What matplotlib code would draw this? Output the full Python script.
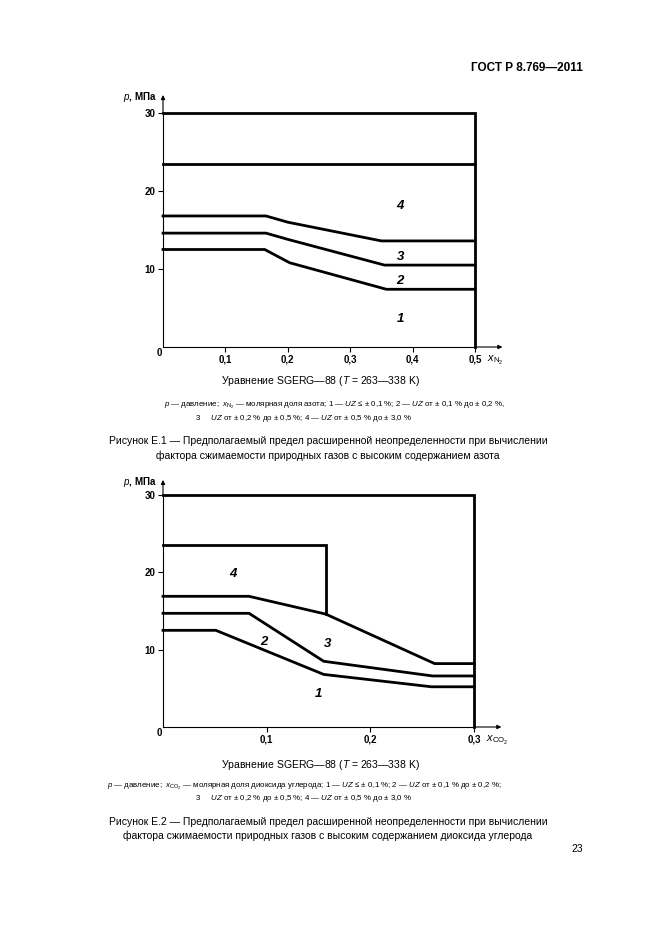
import matplotlib
matplotlib.use("Agg")
import matplotlib.pyplot as plt

plt.rcParams['font.family'] = ['Liberation Sans', 'DejaVu Sans']
plt.rcParams['mathtext.fontset'] = 'custom'
plt.rcParams['mathtext.rm'] = 'Liberation Sans'
plt.rcParams['mathtext.it'] = 'Liberation Sans:italic'
plt.rcParams['mathtext.bf'] = 'Liberation Sans:bold'

# ---- Рисунок Е.1 (азот) ----
n2_xmax = 0.5
n2_xticks = [0.1, 0.2, 0.3, 0.4, 0.5]
n2_b4_x = [0, 0.5]
n2_b4_p = [23.5, 23.5]
n2_b34_x = [0, 0.165, 0.2, 0.35, 0.5]
n2_b34_p = [16.8, 16.8, 16.0, 13.6, 13.6]
n2_b23_x = [0, 0.165, 0.2, 0.355, 0.5]
n2_b23_p = [14.6, 14.6, 13.8, 10.5, 10.5]
n2_b12_x = [0, 0.163, 0.203, 0.358, 0.5]
n2_b12_p = [12.5, 12.5, 10.8, 7.4, 7.4]
n2_lab_x = [0.38, 0.38, 0.38, 0.38]
n2_lab_p = [3.6, 8.4, 11.6, 18.1]

# ---- Рисунок Е.2 (диоксид углерода) ----
co2_xmax = 0.3
co2_xticks = [0.1, 0.2, 0.3]
co2_b4_x = [0, 0.157, 0.157]
co2_b4_p = [23.5, 23.5, 14.6]
co2_b34_x = [0, 0.083, 0.157, 0.262, 0.3]
co2_b34_p = [16.9, 16.9, 14.6, 8.2, 8.2]
co2_b23_x = [0, 0.083, 0.155, 0.26, 0.3]
co2_b23_p = [14.7, 14.7, 8.5, 6.6, 6.6]
co2_b12_x = [0, 0.051, 0.155, 0.259, 0.3]
co2_b12_p = [12.5, 12.5, 6.8, 5.2, 5.2]
co2_lab_x = [0.150, 0.097, 0.159, 0.0675]
co2_lab_p = [4.3, 11.0, 10.7, 19.8]

region_names = ['1', '2', '3', '4']
yticks = [10, 20, 30]

W, H = 661, 935
fig = plt.figure(figsize=(W / 100, H / 100), dpi=100)


def px(x, y):
    return x / W, 1 - y / H


def draw_chart(rect, xmax, xticks, lines, lab_x, lab_p, xlab, up_arrow):
    ax = fig.add_axes(rect)
    ax.set_xlim(0, xmax)
    ax.set_ylim(0, 30)
    for s in ['top', 'right']:
        ax.spines[s].set_visible(False)
    for s in ['left', 'bottom']:
        ax.spines[s].set_linewidth(0.8)
    lw = 2.0
    ax.plot([0, xmax, xmax], [30, 30, 0], color='black', lw=lw,
            solid_joinstyle='miter', clip_on=False)
    for xs, ps in lines:
        ax.plot(xs, ps, color='black', lw=lw, solid_joinstyle='miter',
                clip_on=False)
    for name, x, p in zip(region_names, lab_x, lab_p):
        ax.text(x, p, name, fontsize=9.5, fontweight='bold', style='italic',
                ha='center', va='center')
    ax.set_xticks(xticks)
    ax.set_xticklabels([('%.1f' % t).replace('.', ',') for t in xticks])
    ax.set_yticks(yticks)
    ax.set_yticklabels([str(t) for t in yticks])
    ax.tick_params(length=3.5, width=0.8, pad=2, labelsize=7)
    for t in ax.get_xticklabels() + ax.get_yticklabels():
        t.set_fontweight('bold')
    ax.text(-0.004, -0.005, '0', transform=ax.transAxes, fontsize=7,
            fontweight='bold', ha='right', va='top')
    ax.annotate('', xy=(0, up_arrow), xytext=(0, 1), xycoords='axes fraction',
                arrowprops=dict(arrowstyle='-|>', lw=0.8, color='black',
                                mutation_scale=6, shrinkA=0, shrinkB=0),
                annotation_clip=False)
    ax.annotate('', xy=(1.088, 0), xytext=(1, 0), xycoords='axes fraction',
                arrowprops=dict(arrowstyle='-|>', lw=0.8, color='black',
                                mutation_scale=6, shrinkA=0, shrinkB=0),
                annotation_clip=False)
    ax.text(-0.02, up_arrow - 0.01, '$p$, МПа', transform=ax.transAxes,
            fontsize=7, fontweight='bold', ha='right', va='center')
    ax.text(1.04, -0.03, xlab, transform=ax.transAxes, fontsize=8,
            ha='left', va='top')
    return ax


# chart 1: x 163..475, y 347..113
l, b = px(163, 347)
r, t = px(475, 113)
draw_chart([l, b, r - l, t - b], n2_xmax, n2_xticks,
           [(n2_b4_x, n2_b4_p), (n2_b34_x, n2_b34_p),
            (n2_b23_x, n2_b23_p), (n2_b12_x, n2_b12_p)],
           n2_lab_x, n2_lab_p, r'$x_{\mathrm{N_2}}$', 1.077)

# chart 2: x 163..474, y 727..495
l, b = px(163, 727)
r, t = px(474, 495)
draw_chart([l, b, r - l, t - b], co2_xmax, co2_xticks,
           [(co2_b4_x, co2_b4_p), (co2_b34_x, co2_b34_p),
            (co2_b23_x, co2_b23_p), (co2_b12_x, co2_b12_p)],
           co2_lab_x, co2_lab_p, r'$x_{\mathrm{CO_2}}$', 1.065)

# page texts
fig.text(*px(583, 68), 'ГОСТ Р 8.769—2011', fontsize=8.5, fontweight='bold',
         ha='right', va='center')

eq = 'Уравнение SGERG—88 ($T$ = 263—338 K)'
fig.text(*px(320, 381), eq, fontsize=7.5, ha='center', va='center')
fig.text(*px(320, 765), eq, fontsize=7.5, ha='center', va='center')

fig.text(*px(164, 405),
         r'$p$ — давление;  $x_{\mathrm{N_2}}$ — молярная доля азота; '
         r'$\mathit{1}$ — $UZ$ ≤ ± 0,1 %; $\mathit{2}$ — $UZ$ от ± 0,1 % до ± 0,2 %,',
         fontsize=5.7, ha='left', va='center')
fig.text(*px(195, 418),
         r'$\mathit{3}$     $UZ$ от ± 0,2 % до ± 0,5 %; $\mathit{4}$ — $UZ$ от ± 0,5 % до ± 3,0 %',
         fontsize=5.7, ha='left', va='center')

fig.text(*px(328, 441),
         'Рисунок Е.1 — Предполагаемый предел расширенной неопределенности при вычислении',
         fontsize=7.5, ha='center', va='center')
fig.text(*px(328, 456),
         'фактора сжимаемости природных газов с высоким содержанием азота',
         fontsize=7.5, ha='center', va='center')

fig.text(*px(107, 786),
         r'$p$ — давление;  $x_{\mathrm{CO_2}}$ — молярная доля диоксида углерода; '
         r'$\mathit{1}$ — $UZ$ ≤ ± 0,1 %; $\mathit{2}$ — $UZ$ от ± 0,1 % до ± 0,2 %;',
         fontsize=5.7, ha='left', va='center')
fig.text(*px(195, 798),
         r'$\mathit{3}$     $UZ$ от ± 0,2 % до ± 0,5 %; $\mathit{4}$ — $UZ$ от ± 0,5 % до ± 3,0 %',
         fontsize=5.7, ha='left', va='center')

fig.text(*px(328, 822),
         'Рисунок Е.2 — Предполагаемый предел расширенной неопределенности при вычислении',
         fontsize=7.5, ha='center', va='center')
fig.text(*px(328, 836),
         'фактора сжимаемости природных газов с высоким содержанием диоксида углерода',
         fontsize=7.5, ha='center', va='center')

fig.text(*px(583, 849), '23', fontsize=7.5, ha='right', va='center')

fig.savefig('out.png', dpi=100)
